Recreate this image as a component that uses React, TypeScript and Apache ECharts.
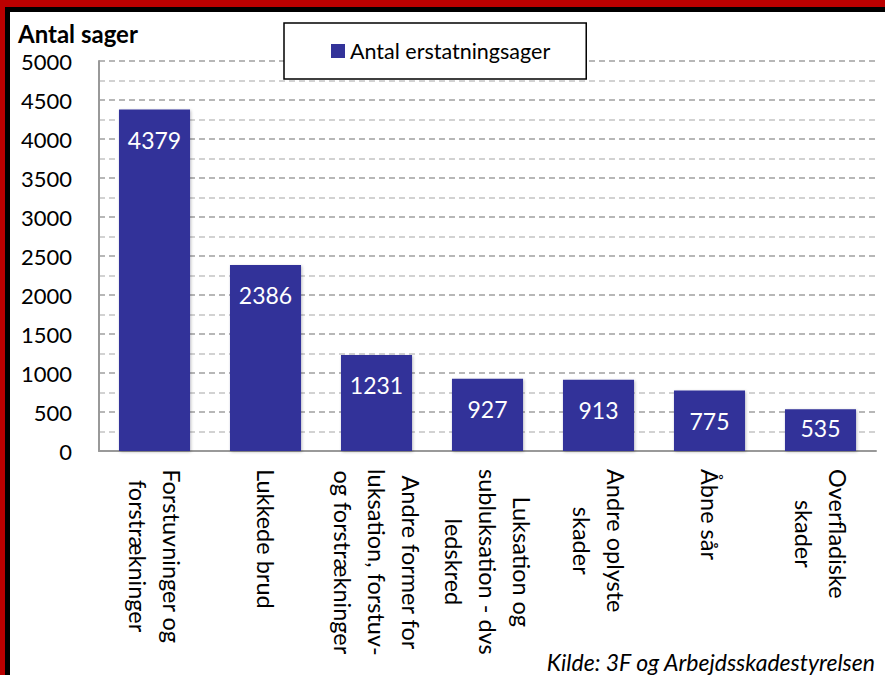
import React, { useEffect, useRef } from 'react';
import * as echarts from 'echarts';

const categories = [
  'Forstuvninger og\nforstrækninger',
  'Lukkede brud',
  'Andre former for\nluksation, forstuv-\nog forstrækninger',
  'Luksation og\nsubluksation - dvs\nledskred',
  'Andre oplyste\nskader',
  'Åbne sår',
  'Overfladiske\nskader',
];
const values = [4379, 2386, 1231, 927, 913, 775, 535];
const seriesName = 'Antal erstatningsager';
const yAxisTitle = 'Antal sager';
const sourceText = 'Kilde: 3F og Arbejdsskadestyrelsen';

export default function App() {
  const ref = useRef<HTMLDivElement>(null);
  useEffect(() => {
    const chart = echarts.init(ref.current!, null, { renderer: 'svg' });
    chart.setOption({
      animation: false,
      backgroundColor: '#fff',
      textStyle: { fontFamily: 'Lato', color: '#000' },
      grid: { left: 99, top: 61, right: 9, bottom: 224 },
      legend: {
        data: [seriesName],
        left: 284,
        top: 23,
        padding: [17, 36, 17, 47],
        itemWidth: 14,
        itemHeight: 14,
        icon: 'rect',
        borderColor: '#000',
        borderWidth: 1.5,
        backgroundColor: '#fff',
        textStyle: { fontSize: 21.5, color: '#000', fontFamily: 'Lato' },
      },
      xAxis: {
        type: 'category',
        data: categories,
        axisLine: { lineStyle: { color: '#999', width: 2 } },
        axisTick: { show: false },
        axisLabel: {
          rotate: -90,
          margin: 18,
          interval: 0,
          formatter: (v: string) => v.split('\n').map((l) => `{c|${l}}`).join('\n'),
          rich: {
            c: { align: 'center', fontSize: 23.5, lineHeight: 34, color: '#000', fontFamily: 'Lato' },
          },
        },
      },
      yAxis: {
        type: 'value',
        min: 0,
        max: 5000,
        interval: 500,
        axisLine: { show: true, lineStyle: { color: '#999', width: 2 } },
        axisTick: { show: false },
        axisLabel: {
          fontSize: 22,
          color: '#000',
          margin: 27,
          fontFamily: 'Lato',
          formatter: (v: number) => String(v),
        },
        splitLine: { lineStyle: { type: [6, 4], color: '#a0a0a0', width: 1.5 } },
        minorTick: { show: false, splitNumber: 2 },
        minorSplitLine: { show: true, lineStyle: { type: [6, 4], color: '#c4c4c4', width: 1.5 } },
      },
      series: [
        {
          name: seriesName,
          type: 'bar',
          data: values.map((v) => (v < 700 ? { value: v, label: { distance: 7 } } : v)),
          barCategoryGap: '36%',
          itemStyle: {
            color: '#333399',
            shadowColor: 'rgba(0,0,0,0.25)',
            shadowBlur: 3,
            shadowOffsetX: 1,
            shadowOffsetY: 1,
          },
          label: {
            show: true,
            position: 'insideTop',
            distance: 19,
            color: '#fff',
            fontSize: 23,
            fontFamily: 'Lato',
          },
        },
      ],
      graphic: [
        { type: 'rect', shape: { x: 0, y: 0, width: 885, height: 7 }, style: { fill: '#BB0000' }, z: 100 },
        { type: 'rect', shape: { x: 0, y: 0, width: 5, height: 675 }, style: { fill: '#BB0000' }, z: 100 },
        { type: 'rect', shape: { x: 5, y: 7, width: 880, height: 5 }, style: { fill: '#000' }, z: 100 },
        { type: 'rect', shape: { x: 5, y: 7, width: 5, height: 668 }, style: { fill: '#000' }, z: 100 },
        {
          type: 'text',
          x: 18,
          y: 33,
          style: {
            text: yAxisTitle,
            fontFamily: 'Lato',
            fontWeight: 'bold',
            fontSize: 24,
            fill: '#000',
            verticalAlign: 'middle',
            align: 'left',
          },
        },
        {
          type: 'text',
          x: 875,
          y: 662,
          style: {
            text: sourceText,
            fontFamily: 'Lato',
            fontStyle: 'italic',
            fontSize: 23,
            fill: '#000',
            verticalAlign: 'middle',
            align: 'right',
          },
        },
      ],
    });
    return () => chart.dispose();
  }, []);
  return (
    <div
      ref={ref}
      style={{ position: 'absolute', left: 0, top: 0, width: 885, height: 675, background: '#fff' }}
    />
  );
}
